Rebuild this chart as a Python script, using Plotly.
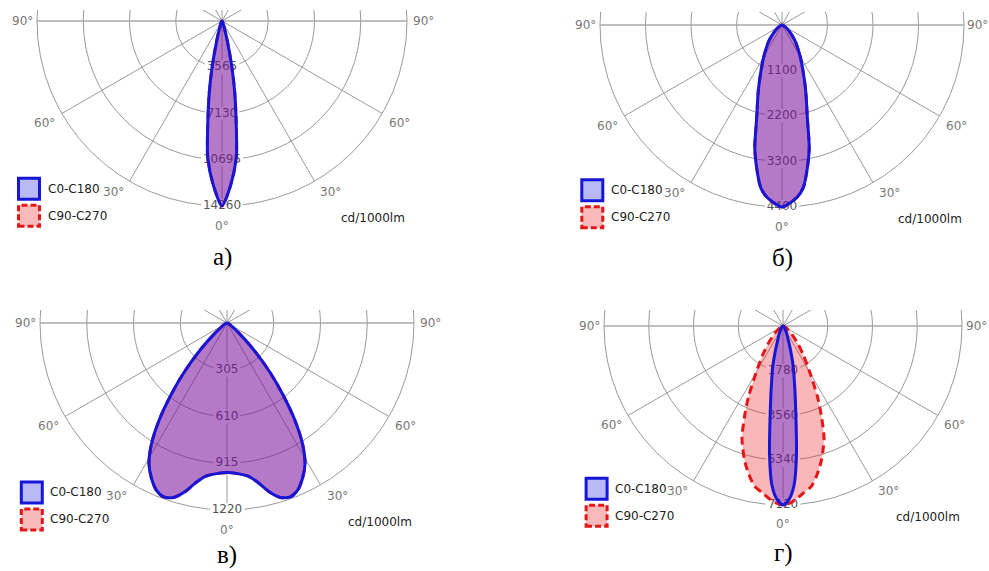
import numpy as np
import plotly.graph_objects as go

# ---------------- data (cd/1000lm, gamma angle in degrees from nadir) ----------------
angles_a = [0, 3, 6, 8, 10, 12, 15, 20, 30, 45, 60, 90]
c0_a = [14260, 12690, 10550, 7840, 5700, 3710, 1570, 430, 140, 50, 20, 0]
c90_a = [14260, 12690, 10550, 7840, 5700, 3710, 1570, 430, 140, 50, 20, 0]
ticks_a = ["3565", "7130", "10695", "14260"]

angles_b = [0, 5, 7.5, 10, 12.5, 15, 20, 25, 30, 40, 50, 60, 90]
c0_b = [4400, 4180, 3960, 3520, 3040, 2380, 1670, 1190, 880, 480, 220, 90, 0]
c90_b = [4400, 4180, 3960, 3520, 3040, 2380, 1670, 1190, 880, 480, 220, 90, 0]
ticks_b = ["1100", "2200", "3300", "4400"]

angles_v = [0, 4, 8, 11, 14, 17, 20, 23, 26, 29, 32, 35, 38, 41, 45, 50, 60, 90]
c0_v = [976, 985, 1010, 1060, 1135, 1190, 1208, 1183, 1125, 1050, 930, 770, 590, 430, 244, 98, 24, 0]
c90_v = [976, 985, 1010, 1060, 1135, 1190, 1208, 1183, 1125, 1050, 930, 770, 590, 430, 244, 98, 24, 0]
ticks_v = ["305", "610", "915", "1220"]

angles_g0 = [0, 2, 4, 6, 8, 10, 12, 14, 17, 20, 25, 30, 40, 60, 90]
c0_g = [7120, 6900, 6340, 5130, 3700, 2780, 2140, 1710, 1070, 640, 360, 210, 110, 40, 0]
angles_g90 = [0, 3, 7, 10, 13, 16, 20, 23, 26, 30, 35, 40, 45, 50, 60, 90]
c90_g = [7120, 7010, 6690, 6480, 6050, 5550, 4770, 3920, 3130, 2140, 1420, 930, 570, 360, 140, 0]
ticks_g = ["1780", "3560", "5340", "7120"]

panel_titles = ["а)", "б)", "в)", "г)"]
series_names = ["C0-C180", "C90-C270"]
unit_label = "cd/1000lm"
angle_0, angle_30, angle_60, angle_90 = "0°", "30°", "60°", "90°"

# ---------------- layout geometry (pixels) ----------------
W, H = 989, 571
FONT = "DejaVu Sans"
panels = [
    dict(a0=angles_a, c0=c0_a, a90=angles_a, c90=c90_a, ticks=ticks_a, title=panel_titles[0],
         cx=222, cy=21, R=185, box=(0, 10, 480, 292), r90=5, cap=51),
    dict(a0=angles_b, c0=c0_b, a90=angles_b, c90=c90_b, ticks=ticks_b, title=panel_titles[1],
         cx=782, cy=25, R=182, box=(500, 12, 989, 292), r90=2, cap=51),
    dict(a0=angles_v, c0=c0_v, a90=angles_v, c90=c90_v, ticks=ticks_v, title=panel_titles[2],
         cx=227, cy=323, R=187, box=(0, 310, 480, 571), r90=5, cap=45),
    dict(a0=angles_g0, c0=c0_g, a90=angles_g90, c90=c90_g, ticks=ticks_g, title=panel_titles[3],
         cx=783, cy=326, R=179, box=(500, 310, 989, 571), r90=3, cap=48),
]

BLUE = "rgb(22,22,215)"
RED = "rgb(228,22,22)"
BLUE_FILL = "rgba(40,0,230,0.33)"
RED_FILL = "rgba(238,30,40,0.32)"
GRID = "#9a9a9a"

fig = go.Figure()
shapes = []
annotations = []


def curve_xy(angles, values, rmax):
    th = np.radians(np.asarray(angles, dtype=float))
    r = np.asarray(values, dtype=float) / rmax
    th_full = np.concatenate([-th[::-1], th[1:]])
    r_full = np.concatenate([r[::-1], r[1:]])
    return r_full * np.sin(th_full), -r_full * np.cos(th_full)


for i, p in enumerate(panels):
    n = "" if i == 0 else str(i + 1)
    xr, yr = "x" + n, "y" + n
    cx, cy, R = p["cx"], p["cy"], p["R"]
    bx0, by0, bx1, by1 = p["box"]
    fig.layout["xaxis" + n] = dict(domain=[bx0 / W, bx1 / W], range=[(bx0 - cx) / R, (bx1 - cx) / R],
                                   visible=False, fixedrange=True)
    fig.layout["yaxis" + n] = dict(domain=[1 - by1 / H, 1 - by0 / H], range=[(cy - by1) / R, (cy - by0) / R],
                                   visible=False, fixedrange=True)

    def px(v):
        return v / R

    rmax = float(p["ticks"][-1])
    radii = [float(t) / rmax for t in p["ticks"]]

    # grid circles
    for rr in radii:
        shapes.append(dict(type="circle", xref=xr, yref=yr, x0=-rr, x1=rr, y0=-rr, y1=rr,
                           line=dict(color=GRID, width=1), layer="below"))
    # spokes (full diameters)
    for ang in [0, 30, 60, 90, 120, 150]:
        a = np.radians(ang)
        shapes.append(dict(type="line", xref=xr, yref=yr,
                           x0=float(np.sin(a)), y0=float(-np.cos(a)),
                           x1=float(-np.sin(a)), y1=float(np.cos(a)),
                           line=dict(color="#a8a8a8" if ang == 90 else GRID, width=1.6 if ang == 90 else 1),
                           layer="below"))
    # white boxes behind radial labels
    for t, rr in zip(p["ticks"], radii):
        hw = px(len(t) * 7.6 / 2 + 2)
        hh = px(7)
        shapes.append(dict(type="rect", xref=xr, yref=yr, x0=-hw, x1=hw, y0=-rr - hh, y1=-rr + hh,
                           fillcolor="white", line=dict(width=0), layer="below"))
    # radial labels (under the fills)
    fig.add_trace(go.Scatter(x=[0] * len(radii), y=[-rr for rr in radii], text=p["ticks"], mode="text",
                             textposition="middle center", cliponaxis=False,
                             textfont=dict(family=FONT, size=12, color="#555555"),
                             xaxis=xr, yaxis=yr, showlegend=False, hoverinfo="skip"))
    # C90-C270 (red, dashed) then C0-C180 (blue, solid)
    x90, y90 = curve_xy(p["a90"], p["c90"], rmax)
    fig.add_trace(go.Scatter(x=x90, y=y90, mode="lines", fill="toself", fillcolor=RED_FILL,
                             line=dict(color=RED, width=3, dash="8px,5px", shape="spline", smoothing=0.7),
                             name=series_names[1], xaxis=xr, yaxis=yr, showlegend=False))
    x0_, y0_ = curve_xy(p["a0"], p["c0"], rmax)
    fig.add_trace(go.Scatter(x=x0_, y=y0_, mode="lines", fill="toself", fillcolor=BLUE_FILL,
                             line=dict(color=BLUE, width=3, shape="spline", smoothing=0.7),
                             name=series_names[0], xaxis=xr, yaxis=yr, showlegend=False))

    # angle labels
    lab = dict(family=FONT, size=12, color="#777777")
    annotations.append(dict(x=px(-R - 3), y=0, xref=xr, yref=yr, text=angle_90, showarrow=False,
                            xanchor="right", yanchor="middle", font=lab, borderpad=0))
    annotations.append(dict(x=px(R + p["r90"]), y=0, xref=xr, yref=yr, text=angle_90, showarrow=False,
                            xanchor="left", yanchor="middle", font=lab, borderpad=0))
    for txt, ang, rad in [(angle_60, 60, 1.105), (angle_30, 32.5, 1.095)]:
        a = np.radians(ang)
        for sgn in (-1, 1):
            annotations.append(dict(x=float(sgn * rad * np.sin(a)), y=float(-rad * np.cos(a)), xref=xr, yref=yr,
                                    text=txt, showarrow=False, xanchor="center", yanchor="middle", font=lab))
    annotations.append(dict(x=0, y=-1.108, xref=xr, yref=yr, text=angle_0, showarrow=False,
                            xanchor="center", yanchor="middle", font=lab))
    # unit label
    annotations.append(dict(x=1.0, y=px(-R - 12), xref=xr, yref=yr, text=unit_label, showarrow=False,
                            xanchor="right", yanchor="middle", font=dict(family=FONT, size=12, color="#222222")))
    # legend
    lx0 = -1.1
    ly0 = -0.85
    sq = px(21)
    for k, (nm, lc, fc, dash) in enumerate([(series_names[0], BLUE, "#b9b9f5", "solid"),
                                             (series_names[1], RED, "#f7b9b9", "6px,3px")]):
        top = ly0 - k * px(27)
        shapes.append(dict(type="rect", xref=xr, yref=yr, x0=lx0, x1=lx0 + sq, y0=top - sq, y1=top,
                           fillcolor=fc, line=dict(color=lc, width=3, dash=dash), layer="above"))
        annotations.append(dict(x=lx0 + sq + px(6), y=top - sq / 2, xref=xr, yref=yr, text=nm, showarrow=False,
                                xanchor="left", yanchor="middle", font=dict(family=FONT, size=12, color="#222222")))
    # panel caption
    annotations.append(dict(x=0, y=px(-R - p["cap"]), xref=xr, yref=yr, text=p["title"], showarrow=False,
                            xanchor="center", yanchor="middle", borderpad=0,
                            font=dict(family="Liberation Serif", size=25, color="#000000")))

fig.update_layout(width=W, height=H, margin=dict(l=0, r=0, t=0, b=0),
                  paper_bgcolor="white", plot_bgcolor="white",
                  shapes=shapes, annotations=annotations, showlegend=False)

# remove the browser's default 8px body margin so the figure fills the window exactly
fig.write_html("out.html", config={"displayModeBar": False},
               post_script="document.body.style.margin='0px';")
